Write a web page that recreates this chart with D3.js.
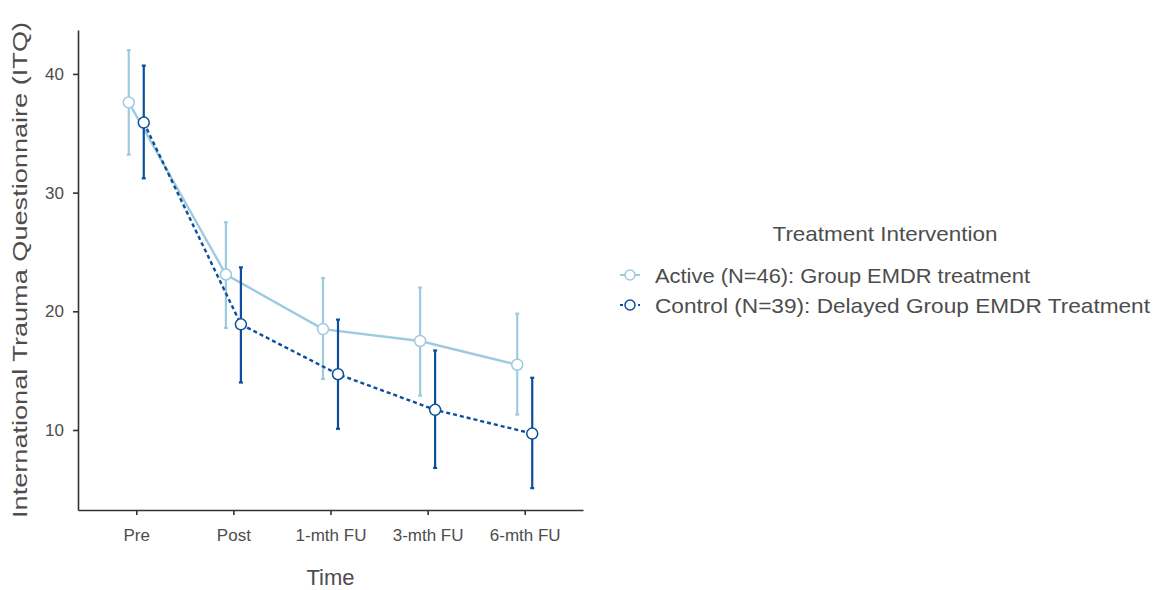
<!DOCTYPE html>
<html>
<head>
<meta charset="utf-8">
<script src="https://cdn.jsdelivr.net/npm/d3@7"></script>
<style>
  body { margin: 0; background: #fff; }
  svg text { font-family: "Liberation Sans Narrow", "Liberation Sans", Arial, sans-serif; fill: #4d4d4d; }
</style>
</head>
<body>
<svg id="chart" width="1158" height="590"></svg>
<script>
// time points
var timepoints = ["Pre", "Post", "1-mth FU", "3-mth FU", "6-mth FU"];

// Active group (N=46)
var activeMean = [37.6, 23.1, 18.5, 17.5, 15.5];
var activeLow  = [33.2, 18.6, 14.3, 12.9, 11.3];
var activeHigh = [42.0, 27.5, 22.8, 22.0, 19.8];

// Control group (N=39)
var controlMean = [35.9, 18.9, 14.7, 11.7, 9.7];
var controlLow  = [31.2, 14.0, 10.1,  6.8,  5.1];
var controlHigh = [40.7, 23.7, 19.3, 16.7, 14.4];

var yTicks = [10, 20, 30, 40];

var groups = [
    { name: "Active (N=46): Group EMDR treatment", mean: activeMean, lo: activeLow, hi: activeHigh,
      color: "#9ecae1", dodge: -1, dash: null, textLen: 375 },
    { name: "Control (N=39): Delayed Group EMDR Treatment", mean: controlMean, lo: controlLow, hi: controlHigh,
      color: "#0b4f9c", dodge: 1, dash: "4,3", textLen: 495 }
];

var svg = d3.select("#chart");
var plotL = 78, plotR = 583, plotT = 30, plotB = 510;

var x = d3.scalePoint()
    .domain(timepoints)
    .range([plotL, plotR])
    .padding(0.6);

var y = d3.scaleLinear()
    .domain([3.26, 43.7])
    .range([plotB, plotT]);

var dodgeW = 7.5;

// axes
var xAxis = svg.append("g")
    .attr("transform", "translate(0," + plotB + ")")
    .call(d3.axisBottom(x).tickSize(5).tickPadding(14).tickSizeOuter(0));
var yAxis = svg.append("g")
    .attr("transform", "translate(" + plotL + ",0)")
    .call(d3.axisLeft(y).tickValues(yTicks).tickSize(5).tickPadding(9).tickSizeOuter(0));

[xAxis, yAxis].forEach(function (ax) {
    ax.select(".domain").attr("stroke", "#333").attr("stroke-width", 1.6);
    ax.selectAll(".tick line").attr("stroke", "#333").attr("stroke-width", 1.6);
    ax.selectAll(".tick text").style("font-size", "17px").attr("fill", "#4d4d4d");
});

// axis titles
svg.append("text")
    .attr("x", x("1-mth FU"))
    .attr("y", 585)
    .attr("text-anchor", "middle")
    .style("font-size", "22px")
    .text("Time");

svg.append("text")
    .attr("transform", "translate(27," + ((plotT + plotB) / 2) + ") rotate(-90)")
    .attr("text-anchor", "middle")
    .attr("textLength", 496)
    .attr("lengthAdjust", "spacingAndGlyphs")
    .style("font-size", "21px")
    .text("International Trauma Questionnaire (ITQ)");

// lines, error bars, points
groups.forEach(function (g) {
    var px = function (d, i) { return x(timepoints[i]) + g.dodge * dodgeW; };

    var line = d3.line()
        .x(function (d, i) { return px(d, i); })
        .y(function (d) { return y(d); });

    svg.append("path")
        .datum(g.mean)
        .attr("d", line)
        .attr("fill", "none")
        .attr("stroke", g.color)
        .attr("stroke-width", 2.4)
        .attr("stroke-dasharray", g.dash);

    var eb = svg.append("g");
    g.mean.forEach(function (m, i) {
        var cx = px(m, i);
        eb.append("line")
            .attr("x1", cx).attr("x2", cx)
            .attr("y1", y(g.lo[i])).attr("y2", y(g.hi[i]))
            .attr("stroke", g.color).attr("stroke-width", 2.2);
        [g.lo[i], g.hi[i]].forEach(function (v) {
            eb.append("line")
                .attr("x1", cx - 2).attr("x2", cx + 2)
                .attr("y1", y(v)).attr("y2", y(v))
                .attr("stroke", g.color).attr("stroke-width", 2.2);
        });
    });

    svg.append("g").selectAll("circle")
        .data(g.mean)
        .enter().append("circle")
        .attr("cx", function (d, i) { return px(d, i); })
        .attr("cy", function (d) { return y(d); })
        .attr("r", 5.5)
        .attr("fill", "#fff")
        .attr("stroke", g.color)
        .attr("stroke-width", 1.5);
});

// legend
var legend = svg.append("g");
legend.append("text")
    .attr("x", 885)
    .attr("y", 241)
    .attr("text-anchor", "middle")
    .attr("textLength", 225)
    .attr("lengthAdjust", "spacingAndGlyphs")
    .style("font-size", "21px")
    .text("Treatment Intervention");

groups.forEach(function (g, i) {
    var ky = 275 + i * 30;
    legend.append("line")
        .attr("x1", 620).attr("x2", 640)
        .attr("y1", ky).attr("y2", ky)
        .attr("stroke", g.color).attr("stroke-width", 2)
        .attr("stroke-dasharray", g.dash ? "3,3" : null);
    legend.append("circle")
        .attr("cx", 630).attr("cy", ky).attr("r", 5)
        .attr("fill", "#fff").attr("stroke", g.color).attr("stroke-width", 1.5);
    legend.append("text")
        .attr("x", 655)
        .attr("y", ky + 8)
        .attr("textLength", g.textLen)
        .attr("lengthAdjust", "spacingAndGlyphs")
        .style("font-size", "21px")
        .text(g.name);
});
</script>
</body>
</html>
